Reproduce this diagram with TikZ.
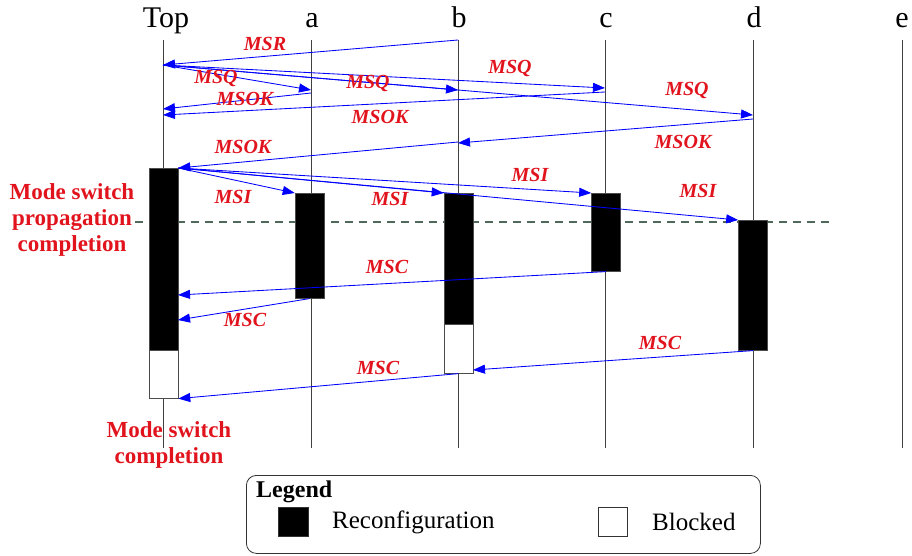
\documentclass[tikz,border=0pt]{standalone}
\usepackage{fontspec}
\setmainfont{Liberation Serif}
\usetikzlibrary{arrows.meta}
\definecolor{msgred}{RGB}{225,20,30}
\definecolor{dashgray}{RGB}{80,105,90}
\begin{document}
\begin{tikzpicture}[x=1pt,y=-1pt,
  head/.style={font=\fontsize{30}{32}\selectfont, inner sep=0pt, anchor=base},
  life/.style={draw=black!75, line width=0.8pt},
  recon/.style={draw=black!70, fill=black, line width=0.6pt, minimum width=29pt, inner sep=0pt, anchor=north},
  blocked/.style={draw=black!70, fill=white, line width=0.6pt, minimum width=29pt, inner sep=0pt, anchor=north},
  msg/.style={draw=blue, line width=0.85pt, -{Triangle[length=12pt,width=9pt]}},
  lbl/.style={text=msgred, font=\fontsize{20}{21}\selectfont\bfseries\itshape, inner sep=0pt},
  note/.style={text=msgred, font=\fontsize{23}{26}\selectfont\bfseries, align=center, inner sep=0pt},
  legtext/.style={font=\fontsize{25}{27}\selectfont, inner sep=0pt, anchor=west}]
\useasboundingbox (0,0) rectangle (912,555);

% lifeline headers
\node[head] (hTop) at (166,27) {Top};
\node[head] (ha) at (312,27) {a};
\node[head] (hb) at (459,27) {b};
\node[head] (hc) at (606,27) {c};
\node[head] (hd) at (754,27) {d};
\node[head] (he) at (902,27) {e};

% lifelines
\foreach \n/\x in {Top/163,a/311,b/458,c/605,d/753,e/902}{
  \coordinate (t\n) at (\x,40);
  \coordinate (u\n) at (\x,448);
  \draw[life] (t\n) -- (u\n);
}

% propagation completion marker
\coordinate (dashL) at (135,222);
\coordinate (dashR) at (830,222);
\draw[dashgray, line width=1.1pt, dash pattern=on 8pt off 6pt] (dashL) -- (dashR);

% activity boxes
\node[recon, minimum height=182pt] (topR) at (163.5,168) {};
\node[blocked, minimum height=48pt] (topB) at (163.5,350) {};
\node[recon, minimum height=105pt] (aR) at (309.5,193) {};
\node[recon, minimum height=131pt] (bR) at (458.5,193) {};
\node[blocked, minimum height=49pt] (bB) at (458.5,324) {};
\node[recon, minimum height=78pt] (cR) at (606,193) {};
\node[recon, minimum height=130pt] (dR) at (753,220) {};

% message end points
\coordinate (msrS) at (458,40);
\coordinate (topQ) at (163,65);
\coordinate (aQ) at (311,90);
\coordinate (bQ) at (458,90);
\coordinate (cQ) at (605,88);
\coordinate (dQ) at (753,115);
\coordinate (aK) at (311,93);
\coordinate (cK) at (605,92);
\coordinate (topKa) at (163,109);
\coordinate (topKc) at (163,115);
\coordinate (dK) at (753,119);
\coordinate (bKin) at (458,143);
\coordinate (bKout) at (458,142);
\coordinate (topCc) at (178,295);
\coordinate (topCa) at (178,320);
\coordinate (bCd) at (473,370);

% request / query / ok phase
\draw[msg] (msrS) -- (topQ);
\draw[msg] (topQ) -- (aQ);
\draw[msg] (topQ) -- (bQ);
\draw[msg] (topQ) -- (cQ);
\draw[msg] (topQ) -- (dQ);
\draw[msg] (aK) -- (topKa);
\draw[msg] (cK) -- (topKc);
\draw[msg] (dK) -- (bKin);
\draw[msg] (bKout) -- (topR.north east);

% initiation phase
\draw[msg] (topR.north east) -- (aR.north west);
\draw[msg] (topR.north east) -- (bR.north west);
\draw[msg] (topR.north east) -- (cR.north west);
\draw[msg] (topR.north east) -- (dR.north west);

% completion phase
\draw[msg] (cR.south) -- (topCc);
\draw[msg] (aR.south) -- (topCa);
\draw[msg] (dR.south) -- (bCd);
\draw[msg] (bB.south) -- (topB.south east);

% message labels
\node[lbl] (lMSR) at (265,44) {MSR};
\node[lbl] (lQa) at (216,78) {MSQ};
\node[lbl] (lKa) at (245,99) {MSOK};
\node[lbl] (lQb) at (368,83) {MSQ};
\node[lbl] (lQc) at (510,68) {MSQ};
\node[lbl] (lKc) at (380,117) {MSOK};
\node[lbl] (lQd) at (687,90) {MSQ};
\node[lbl] (lKd) at (683,142) {MSOK};
\node[lbl] (lKb) at (243,147) {MSOK};
\node[lbl] (lIa) at (233,197) {MSI};
\node[lbl] (lIb) at (390,199) {MSI};
\node[lbl] (lIc) at (530,175) {MSI};
\node[lbl] (lId) at (698,191) {MSI};
\node[lbl] (lCc) at (387,267) {MSC};
\node[lbl] (lCa) at (245,320) {MSC};
\node[lbl] (lCd) at (660,343) {MSC};
\node[lbl] (lCb) at (378,368) {MSC};

% phase notes
\node[note] (nProp) at (72,220) {Mode switch\\propagation\\completion};
\node[note] (nDone) at (169,445) {Mode switch\\completion};

% legend
\node[draw=black!80, line width=0.8pt, rounded corners=10pt, minimum width=514pt, minimum height=78pt, anchor=north west, inner sep=0pt] (legend) at (246,475) {};
\node[legtext, font=\fontsize{24}{26}\selectfont\bfseries] (legT) at (256,492) {Legend};
\node[draw=black!80, fill=black, minimum width=30pt, minimum height=29pt, inner sep=0pt] (legR) at (293,522) {};
\node[legtext] (legRt) at (332,522) {Reconfiguration};
\node[draw=black!80, fill=white, line width=0.6pt, minimum width=29pt, minimum height=29pt, inner sep=0pt] (legB) at (612.5,522) {};
\node[legtext] (legBt) at (652,522) {Blocked};
\end{tikzpicture}
\end{document}
